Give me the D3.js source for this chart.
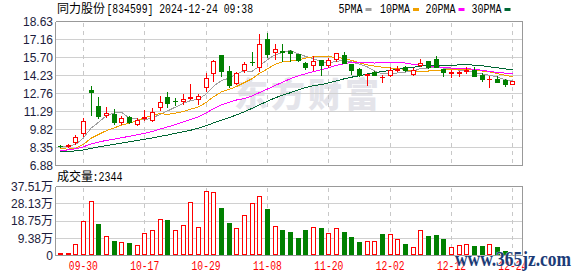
<!DOCTYPE html>
<html><head><meta charset="utf-8">
<script src="https://cdn.jsdelivr.net/npm/d3@7/dist/d3.min.js"></script>
<style>html,body{margin:0;padding:0;background:#fff}svg{display:block}</style>
</head><body>
<svg id="c" width="578" height="276"></svg>
<script>
// ---------------- data ----------------
const dates = ["09-25","09-26","09-27","09-30","10-08","10-09","10-10","10-11","10-14","10-15",
"10-16","10-17","10-18","10-21","10-22","10-23","10-24","10-25","10-28","10-29",
"10-30","10-31","11-01","11-04","11-05","11-06","11-07","11-08","11-11","11-12",
"11-13","11-14","11-15","11-18","11-19","11-20","11-21","11-22","11-25","11-26",
"11-27","11-28","11-29","12-02","12-03","12-04","12-05","12-06","12-09","12-10",
"12-11","12-12","12-13","12-16","12-17","12-18","12-19","12-20","12-23","12-24"];
const open  = [8.50,8.45,8.78,9.50,13.05,11.76,11.03,11.06,10.41,10.80,10.25,10.77,10.60,11.65,12.49,12.16,12.14,12.38,12.30,13.32,
14.42,15.87,14.60,13.59,14.66,15.33,14.90,17.18,16.14,16.19,16.19,15.95,15.23,15.04,15.47,15.12,15.55,15.90,15.15,14.74,
14.30,14.53,14.10,14.28,14.70,14.90,14.37,15.04,15.39,15.55,14.74,14.46,14.46,14.62,14.64,14.28,13.92,13.96,13.86,13.56];
const high  = [8.58,8.60,9.37,10.79,13.40,12.49,11.65,11.52,10.90,10.95,10.79,11.44,11.54,12.57,12.89,12.40,12.70,13.53,12.73,14.44,
15.50,15.87,14.96,14.50,15.36,16.12,17.64,17.67,16.81,16.81,16.27,15.95,15.36,15.79,15.47,15.69,16.09,16.17,15.15,14.82,
14.38,14.58,14.28,14.88,14.98,14.98,14.82,15.55,15.39,15.79,14.74,14.64,14.58,14.90,14.90,14.42,14.18,14.18,13.96,13.75];
const low   = [8.42,8.40,8.64,9.32,10.98,10.79,10.85,10.25,10.25,10.33,10.17,10.63,10.53,11.44,11.65,11.81,11.87,12.32,11.87,12.94,
13.80,14.15,13.27,13.53,14.52,15.09,14.56,15.77,15.57,15.41,15.41,15.41,14.72,14.69,14.28,14.88,15.44,15.23,14.37,14.15,
13.43,14.23,13.67,14.15,14.56,14.56,14.28,15.01,14.82,14.88,14.20,14.12,14.20,14.42,14.20,13.80,13.32,13.72,13.37,13.56];
const close = [8.48,8.52,9.24,10.53,12.86,10.90,11.17,10.39,10.74,10.45,10.63,10.81,11.25,12.08,11.95,12.12,12.32,12.45,12.57,14.02,
15.44,14.56,13.43,14.40,15.15,15.29,16.76,16.01,16.35,16.15,16.03,15.47,14.88,15.39,15.09,15.49,16.03,15.28,14.70,14.28,
14.36,14.28,14.14,14.69,14.75,14.64,14.64,15.28,14.88,14.88,14.48,14.50,14.48,14.64,14.20,13.96,13.94,13.72,13.56,13.75];
// volume in 万 shares
const volume = [1.6,1.6,6.0,18.7,29.6,17.2,10.4,7.9,7.1,6.6,5.5,12.1,13.7,19.8,19.2,13.7,16.5,29.0,15.3,34.8,
34.4,25.6,17.7,15.2,21.8,28.4,32.4,25.3,16.3,13.7,12.6,9.3,13.7,15.7,14.8,12.1,15.2,12.6,9.9,7.1,
7.7,7.7,11.5,11.9,9.2,6.4,4.8,13.6,10.4,11.0,8.8,4.8,5.9,6.4,4.9,4.9,6.4,4.4,2.7,0.2344];
const volUp = [1,1,1,1,1,0,1,0,1,0,1,1,1,1,0,1,1,1,1,1,
1,0,0,1,1,1,1,0,1,0,0,0,0,1,0,1,1,0,0,0,
1,1,0,1,1,0,1,1,0,0,0,1,1,1,0,0,1,0,0,1];
const ma5  = [8.40,8.45,8.60,9.12,9.93,10.41,10.94,11.17,11.21,10.73,10.68,10.60,10.78,11.04,11.34,11.64,11.94,12.18,12.28,12.70,
13.36,13.81,14.00,14.37,14.60,14.57,15.01,15.52,15.91,16.11,16.26,16.00,15.78,15.58,15.37,15.26,15.38,15.46,15.32,15.16,
14.93,14.58,14.35,14.35,14.44,14.50,14.57,14.80,14.84,14.86,14.83,14.80,14.64,14.60,14.46,14.36,14.24,14.09,13.88,13.79];
const ma10 = [8.24,8.22,8.28,8.60,9.10,9.42,9.72,9.95,10.17,10.33,10.54,10.77,10.97,11.13,11.04,11.16,11.27,11.48,11.66,12.02,
12.50,12.88,13.09,13.33,13.65,13.96,14.41,14.76,15.14,15.35,15.41,15.50,15.65,15.75,15.74,15.76,15.69,15.62,15.45,15.26,
15.10,14.98,14.90,14.83,14.80,14.72,14.58,14.58,14.59,14.65,14.67,14.69,14.72,14.72,14.66,14.59,14.52,14.37,14.24,14.12];
const ma20 = [8.10,8.15,8.25,8.40,8.64,8.79,8.93,9.03,9.15,9.26,9.38,9.51,9.66,9.85,10.03,10.22,10.42,10.63,10.86,11.17,
11.52,11.82,12.03,12.23,12.34,12.56,12.84,13.12,13.40,13.69,13.96,14.19,14.37,14.54,14.69,14.86,15.05,15.19,15.30,15.31,
15.26,15.24,15.28,15.29,15.27,15.24,15.13,15.10,15.02,14.96,14.88,14.83,14.81,14.78,14.73,14.65,14.55,14.47,14.42,14.39];
const ma30 = [8.00,8.03,8.07,8.15,8.28,8.40,8.50,8.61,8.71,8.82,8.92,9.02,9.13,9.25,9.37,9.50,9.63,9.76,9.92,10.12,
10.36,10.58,10.78,11.02,11.26,11.55,11.84,12.12,12.40,12.62,12.82,13.05,13.24,13.40,13.48,13.63,13.79,13.95,14.09,14.21,
14.34,14.45,14.55,14.64,14.73,14.81,14.89,14.99,15.06,15.09,15.06,15.06,15.09,15.10,15.07,15.02,14.93,14.85,14.76,14.68];
const priceTicks = [6.88,8.35,9.82,11.29,12.76,14.23,15.70,17.16,18.63];
const volTicks = [0,9.38,18.75,28.13,37.51];
const volTickLabels = ["0","9.38万","18.75万","28.13万","37.51万"];
const dateTicks = ["09-30","10-17","10-29","11-08","11-20","12-02","12-12","12-24"];
const maNames = ["5PMA","10PMA","20PMA","30PMA"];
const maColors = ["#a0a0a0","#f0a000","#ff00ff","#006633"];
const titleCN = "同力股份", titleEN = "[834599] 2024-12-24 09:38";
const volTitleCN = "成交量", volTitleEN = ":2344";

// ---------------- drawing ----------------
const svg = d3.select("#c");
const RED = "#ff0000", GREEN = "#008000";
const L = 55.5, R = 522.5;
const idx = d3.range(dates.length);
const x = d3.scaleBand().domain(idx).range([56.5, 56.5 + 7.67 * dates.length]).padding(0);
const cx = i => x(i) + x.bandwidth() / 2;
const y = d3.scaleLinear().domain([6.88, 18.63]).range([165.5, 21.5]);
const yv = d3.scaleLinear().domain([0, 37.51]).range([255.5, 186.5]);
const px = v => Math.floor(v) + 0.5;
const MONO = "'Liberation Mono', monospace";
const CJK = "'Noto Sans CJK SC', sans-serif";

// watermark
svg.append("text").attr("x", 234).attr("y", 107).attr("font-family", CJK).attr("font-weight", 900)
  .attr("font-size", 34).attr("letter-spacing", 3).attr("fill", "#e4e4ea").text("东方财富");

const g = svg.append("g").attr("shape-rendering", "crispEdges");

function panel(scale, ticks, top, bot) {
  ticks.forEach(t => {
    const yy = px(scale(t));
    g.append("line").attr("x1", L).attr("x2", R).attr("y1", yy).attr("y2", yy)
      .attr("stroke", (yy === px(top) || yy === px(bot)) ? "#999" : "#d0d0d0");
  });
  dateTicks.forEach(d => {
    const xx = px(cx(dates.indexOf(d)));
    g.append("line").attr("x1", xx).attr("x2", xx).attr("y1", px(top) + 1).attr("y2", px(bot) - 1)
      .attr("stroke", "#c8c8c8").attr("stroke-dasharray", "4,4");
  });
  g.append("line").attr("x1", L).attr("x2", L).attr("y1", px(top)).attr("y2", px(bot)).attr("stroke", "#999");
  g.append("line").attr("x1", R).attr("x2", R).attr("y1", px(top)).attr("y2", px(bot)).attr("stroke", "#999");
}
panel(y, priceTicks, y(18.63), y(6.88));
panel(yv, volTicks, yv(37.51), yv(0));

// moving averages
[ma5, ma10, ma20, ma30].forEach((arr, k) => {
  g.append("path").datum(arr).attr("fill", "none").attr("stroke", maColors[k]).attr("stroke-width", 1)
    .attr("d", d3.line().x((v, i) => cx(i)).y(v => y(v)));
});

// candles
idx.forEach(i => {
  const c = Math.floor(cx(i));
  const up = close[i] >= open[i];
  const col = up ? RED : GREEN;
  const t = Math.round(y(Math.max(open[i], close[i])));
  const b = Math.round(y(Math.min(open[i], close[i])));
  const yh = Math.round(y(high[i])), yl = Math.round(y(low[i]));
  if (b - t < 1) {
    g.append("line").attr("x1", c + 0.5).attr("x2", c + 0.5).attr("y1", yh).attr("y2", yl + 1).attr("stroke", col);
    g.append("line").attr("x1", c - 2).attr("x2", c + 3).attr("y1", t + 0.5).attr("y2", t + 0.5).attr("stroke", col);
  } else if (up) {
    g.append("line").attr("x1", c + 0.5).attr("x2", c + 0.5).attr("y1", yh).attr("y2", t).attr("stroke", col);
    g.append("line").attr("x1", c + 0.5).attr("x2", c + 0.5).attr("y1", b + 1).attr("y2", yl + 1).attr("stroke", col);
    g.append("rect").attr("x", c - 1.5).attr("y", t + 0.5).attr("width", 4).attr("height", b - t)
      .attr("fill", "#fff").attr("stroke", col);
  } else {
    g.append("line").attr("x1", c + 0.5).attr("x2", c + 0.5).attr("y1", yh).attr("y2", yl + 1).attr("stroke", col);
    g.append("rect").attr("x", c - 2).attr("y", t).attr("width", 5).attr("height", b - t + 1).attr("fill", col);
  }
});

// volume bars
idx.forEach(i => {
  const c = Math.floor(cx(i));
  const t = Math.round(yv(volume[i]));
  const base = Math.floor(yv(0));
  if (base - t < 1) return;
  if (volUp[i]) {
    g.append("rect").attr("x", c - 1.5).attr("y", t + 0.5).attr("width", 4).attr("height", base - t - 1)
      .attr("fill", "#fff").attr("stroke", RED);
  } else {
    g.append("rect").attr("x", c - 2).attr("y", t).attr("width", 5).attr("height", base - t).attr("fill", GREEN);
  }
});

// axis labels
const lab = svg.append("g").attr("font-family", "'Liberation Sans', 'Noto Sans CJK SC', sans-serif")
  .attr("font-size", 12).attr("fill", "#1c1c3c").attr("text-anchor", "end");
priceTicks.forEach(t => lab.append("text").attr("x", 53).attr("y", y(t)).attr("dy", "0.36em").text(t.toFixed(2)));
volTicks.forEach((t, k) => lab.append("text").attr("x", 53).attr("y", yv(t)).attr("dy", "0.36em").text(volTickLabels[k]));

function mono(xs, yy, s, color, w) {
  svg.append("text").attr("x", xs).attr("y", yy).attr("font-family", MONO).attr("font-size", 12)
    .attr("fill", color).attr("textLength", s.length * w).attr("lengthAdjust", "spacingAndGlyphs").text(s);
}
// date labels
dateTicks.forEach(d => {
  const xx = cx(dates.indexOf(d));
  mono(xx - 14.5, 270, d, RED, 5.8);
});

// title
svg.append("text").attr("x", 57).attr("y", 13).attr("font-family", CJK).attr("font-size", 12).attr("fill", "#000").text(titleCN);
mono(106.5, 12.5, titleEN, "#000", 5.86);

// legend
const legX = [338.5, 380, 425.5, 471.5];
maNames.forEach((n, k) => {
  mono(legX[k], 12.5, n, "#000", 6);
  svg.append("rect").attr("x", legX[k] + n.length * 6 + 3).attr("y", 8).attr("width", 6).attr("height", 3)
    .attr("fill", maColors[k]);
});

// volume title
svg.append("text").attr("x", 57).attr("y", 181).attr("font-family", CJK).attr("font-size", 12).attr("fill", "#000").text(volTitleCN);
mono(92.5, 180.5, volTitleEN, "#000", 6);

// site watermark
svg.append("text").attr("x", 455).attr("y", 266).attr("font-family", "'Liberation Serif', serif").attr("font-weight", "bold")
  .attr("font-size", 20).attr("fill", "#1c3c78").attr("stroke", "#fff").attr("stroke-width", 0.6)
  .attr("paint-order", "stroke").attr("textLength", 116).attr("lengthAdjust", "spacingAndGlyphs").text("www.365jz.com");
</script>
</body></html>
